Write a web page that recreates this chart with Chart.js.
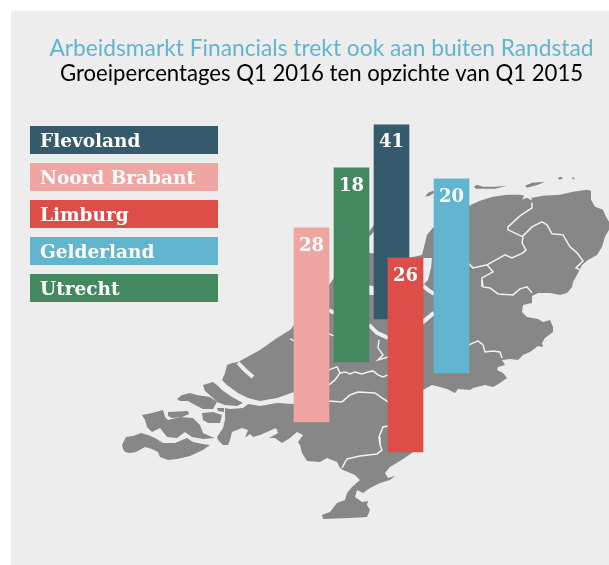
<!DOCTYPE html>
<html>
<head>
<meta charset="utf-8">
<script src="https://cdn.jsdelivr.net/npm/chart.js@4"></script>
<style>
  html, body { margin: 0; padding: 0; background: #fff; }
  .panel { position: absolute; left: 11px; top: 11px; width: 598px; height: 554px; background: #ededed; }
  #canvas { position: absolute; left: 0; top: 0; }
</style>
</head>
<body>
<div class="panel"></div>
<canvas id="canvas" width="609" height="565"></canvas>
<script>
const titleText = "Arbeidsmarkt Financials trekt ook aan buiten Randstad";
const subtitleText = "Groeipercentages Q1 2016 ten opzichte van Q1 2015";

const regions = ["Flevoland", "Noord Brabant", "Limburg", "Gelderland", "Utrecht"];
const growth = [41, 28, 26, 20, 18];
const regionColors = ["#355a6b", "#efa5a2", "#de4e48", "#62b5cf", "#44885f"];

// the bars all have the same length, they just float over their province
const barCentre = [391.5, 311.5, 405.5, 451.5, 351.5];
const barFrom = [125, 228, 258, 179, 168];
const barTo = [319, 422, 452, 373, 362];

// map outline, in picture units
const mainland = [[217,437],[223,428],[225,420],[225,408],[230,409],[243,408],[248,404],[260,406],[277,403],[294,404],
  [294,392],[277,398],[260,401],[248,398],[238,393],[227,385],[222,380],[225,373],[227,365],[232,363],[238,362],
  [260,350],[277,338],[290,330],[294,325],[329,285],[334,278],[369,232],[374,225],[400,198],[406,203],[406,258],
  [413,257],[422,255],[427,235],[433,228],[469,206],[480,201],[493,197],[507,195],[520,195],[532,198],[543,196],
  [560,195],[573,192],[587,190],[591,191],[591,200],[595,207],[603,210],[606,217],[609,222],[609,230],[605,237],
  [602,247],[597,255],[588,260],[582,265],[578,273],[573,282],[572,287],[567,293],[560,295],[550,293],[538,293],
  [532,296],[532,303],[523,305],[522,312],[527,317],[538,319],[543,322],[550,320],[553,327],[553,332],[545,338],
  [542,343],[543,347],[538,346],[530,352],[523,355],[518,360],[510,359],[502,360],[505,365],[498,367],[497,370],
  [503,373],[507,378],[500,383],[493,387],[485,385],[473,388],[470,390],[458,389],[455,393],[447,389],[440,387],
  [432,385],[423,390],[418,445],[412,453],[403,459],[390,467],[385,473],[388,478],[395,476],[390,480],[380,483],
  [370,488],[363,493],[357,490],[355,497],[362,502],[368,501],[367,505],[370,510],[367,517],[350,518],[323,519],
  [322,515],[330,512],[337,503],[345,500],[347,493],[352,487],[360,480],[355,475],[343,470],[340,468],[337,462],
  [327,458],[320,462],[307,461],[302,453],[300,445],[298,442],[303,435],[297,432],[290,438],[282,443],[275,438],
  [269,438],[278,433],[276,428],[260,435],[253,437],[250,434],[245,438],[248,430],[242,428],[232,432],[230,440],
  [228,445],[223,445],[218,440]];
const zeeuwsVlaanderen = [[123,449],[122,445],[126,437],[133,436],[141,433],[148,435],[155,438],[163,443],[175,443],
  [187,438],[193,442],[203,444],[210,445],[203,450],[190,456],[177,459],[168,460],[160,457],[158,452],[152,449],
  [145,447],[136,452],[130,453],[125,452]];
const beveland = [[142,415],[152,413],[163,410],[165,417],[168,420],[180,417],[193,418],[200,425],[203,433],[212,437],
  [215,438],[203,439],[192,437],[185,432],[177,438],[167,437],[160,428],[152,432],[147,427],[145,420]];
const schouwen = [[168,412],[188,411],[189,414],[182,417],[172,418],[168,416]];
const tholen = [[202,413],[213,412],[222,415],[220,423],[208,423],[203,420]];
const stPhilipsland = [[217,408],[224,408],[224,412],[218,411]];
const goeree = [[177,399],[182,395],[190,393],[197,395],[210,397],[217,402],[213,409],[203,409],[195,405],[188,401],[180,401]];
const voornePutten = [[203,385],[213,382],[218,386],[222,390],[232,397],[243,403],[237,406],[225,405],[217,402],[212,397],[205,391]];
const texelStrip = [[425,197],[428,193],[433,191],[434,193],[430,196]];
const vlieland = [[474,187],[477,185],[483,187],[495,187],[507,186],[495,189],[483,189],[476,189]];
const terschelling = [[525,186],[532,183],[545,182],[538,185],[527,188]];
const ameland = [[558,178],[561,177],[563,179],[559,180]];
const schier = [[572,178],[575,178],[573,180]];

// water on top of the land
const ijsselmeerEdge = [[423,258],[432,258],[431,268],[428,280],[423,285]];
const nhInlet = [[369,237],[374,232],[384,232],[384,254],[369,253]];
const lauwersmeer = [[522,200],[526,193],[530,193],[532,201],[527,198]];
const ketelmeer = [[366,285],[380,287],[380,295],[366,295]];
const ijsselOuter = [[423,286],[428,290],[434,294]];
const randmeer = [[410,327],[423,322],[434,313]];
const rijn = [[369,325],[377,333],[388,338]];
const nieuweWaterweg = [[238,363],[246,371],[253,377]];
const northSeaCanal = [[329,310],[334,313]];

// province borders
const borders = [
  [[329,370],[337,367],[340,373],[335,380],[329,385]],
  [[340,373],[345,372],[350,374],[355,372],[362,374],[368,372],[373,371],[378,375],[383,377],[388,375]],
  [[329,401],[342,402],[350,395],[358,392],[375,393],[382,398],[388,402]],
  [[388,426],[383,427],[379,437],[380,445],[382,450],[377,454],[360,456],[347,459],[342,468]],
  [[379,340],[378,348],[383,355],[378,360],[388,357]],
  [[469,345],[478,341],[483,345],[485,352],[493,351],[500,352],[502,358]],
  [[482,280],[483,287],[490,288],[498,294],[513,295],[520,289],[527,287],[532,293]],
  [[469,264],[473,268],[487,265],[493,272],[482,278],[482,287]],
  [[487,265],[505,255],[512,258],[523,253],[526,250],[522,243],[523,237],[508,230],[508,227],[520,216],[532,208],[532,203]],
  [[522,237],[532,227],[542,222],[547,225],[552,234],[563,235],[570,247],[577,253],[583,261],[576,268],[580,270]],
  [[329,334],[334,336]],
  [[290,339],[294,341]]
];

const landColor = "#878787";
const panelColor = "#ededed";
const borderColor = "#f2f2f2";

function shape(points, color, order) {
  return { type: "line", data: points, fill: "shape", backgroundColor: color, borderColor: color,
    borderWidth: 0, pointRadius: 0, tension: 0, order: order };
}

function stroke(points, color, width, order) {
  return { type: "line", data: points, fill: false, borderColor: color, borderWidth: width,
    pointRadius: 0, tension: 0, order: order };
}

// legend chips and the numbers in the bars
const labelPlugin = {
  id: "labels",
  afterDatasetsDraw(chart) {
    const ctx = chart.ctx;
    const bars = chart.getDatasetMeta(0).data;
    ctx.save();
    ctx.textBaseline = "middle";
    ctx.fillStyle = "#fff";
    ctx.textAlign = "center";
    ctx.font = "bold 18px 'DejaVu Serif'";
    bars.forEach((bar, i) => {
      ctx.fillText(String(growth[i]), bar.x, Math.min(bar.y, bar.base) + 18);
    });
    ctx.textAlign = "left";
    ctx.font = "bold 18.5px 'DejaVu Serif'";
    regions.forEach((name, i) => {
      const top = 126 + i * 37;
      ctx.fillStyle = regionColors[i];
      ctx.fillRect(30, top, 188, 28);
      ctx.fillStyle = "#fff";
      ctx.fillText(name, 40, top + 16);
    });
    ctx.restore();
  }
};

const datasets = [
  {
    type: "bar",
    label: "Groei",
    data: regions.map((name, i) => ({ x: barCentre[i], y: [barFrom[i], barTo[i]] })),
    backgroundColor: regionColors,
    barThickness: 35,
    order: 0
  }
];
borders.forEach(line => datasets.push(stroke(line, borderColor, 1.5, 1)));
[ijsselOuter, randmeer, rijn, nieuweWaterweg, northSeaCanal].forEach(line => datasets.push(stroke(line, panelColor, 4, 2)));
[ijsselmeerEdge, nhInlet, lauwersmeer, ketelmeer].forEach(area => datasets.push(shape(area, panelColor, 3)));
[mainland, zeeuwsVlaanderen, beveland, schouwen, tholen, stPhilipsland, goeree, voornePutten, texelStrip, vlieland, terschelling, ameland, schier]
  .forEach(area => datasets.push(shape(area, landColor, 4)));

new Chart(document.getElementById("canvas"), {
  type: "bar",
  data: { datasets: datasets },
  plugins: [labelPlugin],
  options: {
    responsive: false,
    animation: false,
    layout: { padding: { left: 34 } },
    scales: {
      x: { type: "linear", min: 34, max: 609, offset: false, display: false },
      y: { type: "linear", min: 86, max: 565, reverse: true, display: false }
    },
    plugins: {
      legend: { display: false },
      tooltip: { enabled: false },
      title: {
        display: true,
        text: titleText,
        color: "#62b5cf",
        font: { family: "Lato", size: 22.75, weight: "normal", lineHeight: 1.05 },
        padding: { top: 37, bottom: 1 }
      },
      subtitle: {
        display: true,
        text: subtitleText,
        color: "#000",
        font: { family: "Lato", size: 22.15, weight: "normal", lineHeight: 1.08 },
        padding: 0
      }
    }
  }
});
</script>
</body>
</html>
